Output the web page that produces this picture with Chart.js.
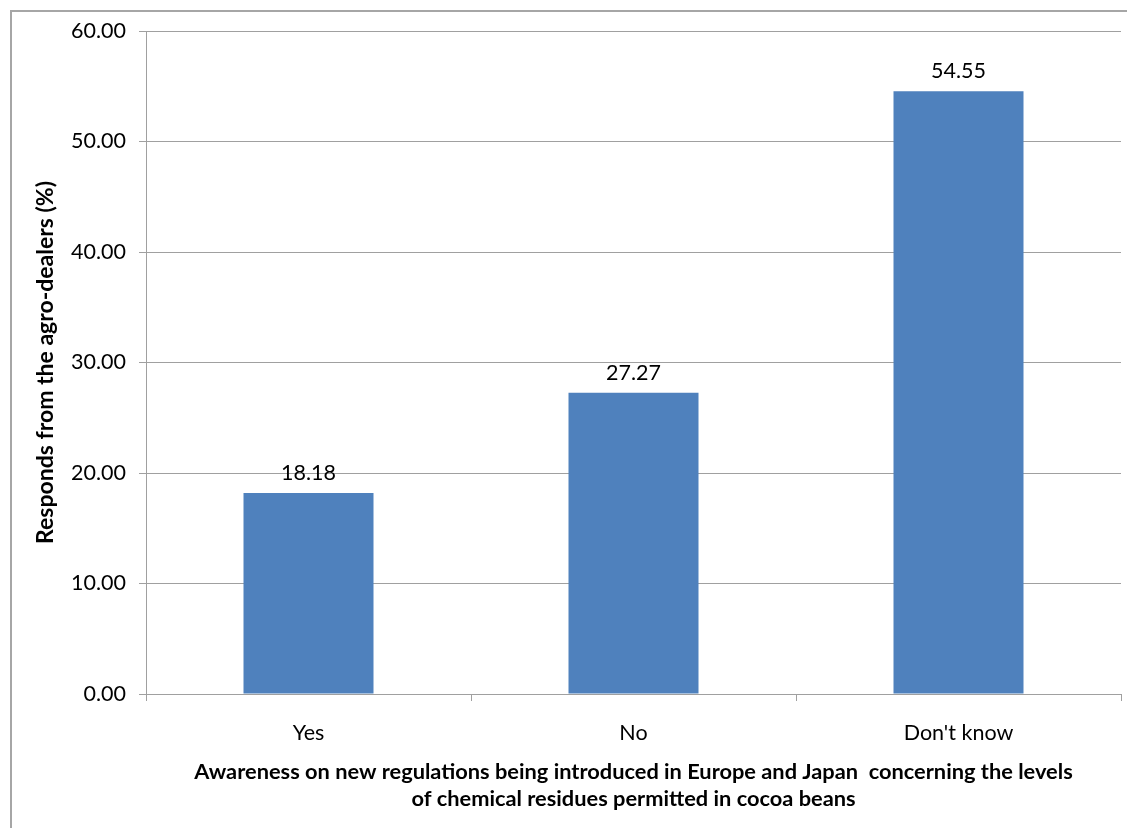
<!DOCTYPE html>
<html>
<head>
<meta charset="utf-8">
<title>Awareness of agro-dealers</title>
<script src="https://cdn.jsdelivr.net/npm/chart.js@4.4.1/dist/chart.umd.min.js"></script>
<style>
  html, body { margin: 0; padding: 0; background: #fff; overflow: hidden; }
  #wrap { position: relative; width: 1127px; height: 828px; }
  #frame {
    position: absolute; left: 10px; top: 10px; width: 1200px; height: 900px;
    border-left: 2px solid #a6a6a6; border-top: 2px solid #a6a6a6;
    pointer-events: none;
  }
</style>
</head>
<body>
<div id="wrap">
  <canvas id="myChartAwareness"></canvas>
  <div id="frame"></div>
</div>
<script>
const categories = ['Yes', 'No', "Don't know"]
const responses = [18.18, 27.27, 54.55]
const yTicks = [0, 10, 20, 30, 40, 50, 60]

const GRID = '#a0a0a0'

// prints the value above each bar
const valueLabels = {
    id: 'valueLabels',
    afterDatasetsDraw(chart) {
        const ctx = chart.ctx
        const meta = chart.getDatasetMeta(0)
        ctx.save()
        ctx.font = '21.5px Lato'
        ctx.fillStyle = '#000'
        ctx.textAlign = 'center'
        ctx.textBaseline = 'middle'
        meta.data.forEach((bar, i) => {
            ctx.fillText(responses[i].toFixed(2), bar.x, bar.y - 20)
        })
        ctx.restore()
    }
}

var ctx = document.getElementById('myChartAwareness')
var myChart = new Chart(ctx, {
    type: 'bar',
    data: {
        labels: categories,
        datasets: [{
            data: responses,
            backgroundColor: '#4F81BD',
            borderWidth: 0,
            categoryPercentage: 1,
            barPercentage: 0.4
        }]
    },
    plugins: [valueLabels],
    options: {
        responsive: true,
        maintainAspectRatio: false,
        animation: false,
        layout: { padding: { top: 31, right: 6, left: 0, bottom: 0 } },
        plugins: {
            legend: { display: false },
            tooltip: { enabled: false }
        },
        scales: {
            x: {
                afterFit: (scale) => { scale.height = 134 },
                grid: { drawOnChartArea: false, tickLength: 7, color: GRID, offset: true },
                border: { color: GRID, width: 1 },
                ticks: { color: '#000', font: { family: 'Lato', size: 21.5 }, padding: 19 },
                title: {
                    display: true,
                    text: ['Awareness on new regulations being introduced in Europe and Japan  concerning the levels',
                           'of chemical residues permitted in cocoa beans'],
                    color: '#000',
                    font: { family: 'Lato', size: 21.8, weight: 'bold', lineHeight: 1.25 },
                    padding: { top: 0, bottom: 15 }
                }
            },
            y: {
                min: 0,
                max: 60,
                afterFit: (scale) => { scale.width = 146 },
                afterBuildTicks: (scale) => { scale.ticks = yTicks.map(v => ({ value: v })) },
                grid: { color: GRID, tickLength: 7 },
                border: { color: GRID, width: 1 },
                ticks: {
                    color: '#000',
                    font: { family: 'Lato', size: 21.5 },
                    padding: 13,
                    callback: (v) => Number(v).toFixed(2)
                },
                title: {
                    display: true,
                    text: 'Responds from the agro-dealers (%)',
                    color: '#000',
                    font: { family: 'Lato', size: 23, weight: 'bold' },
                    padding: { top: 32, bottom: 0 }
                }
            }
        }
    }
})
</script>
</body>
</html>
